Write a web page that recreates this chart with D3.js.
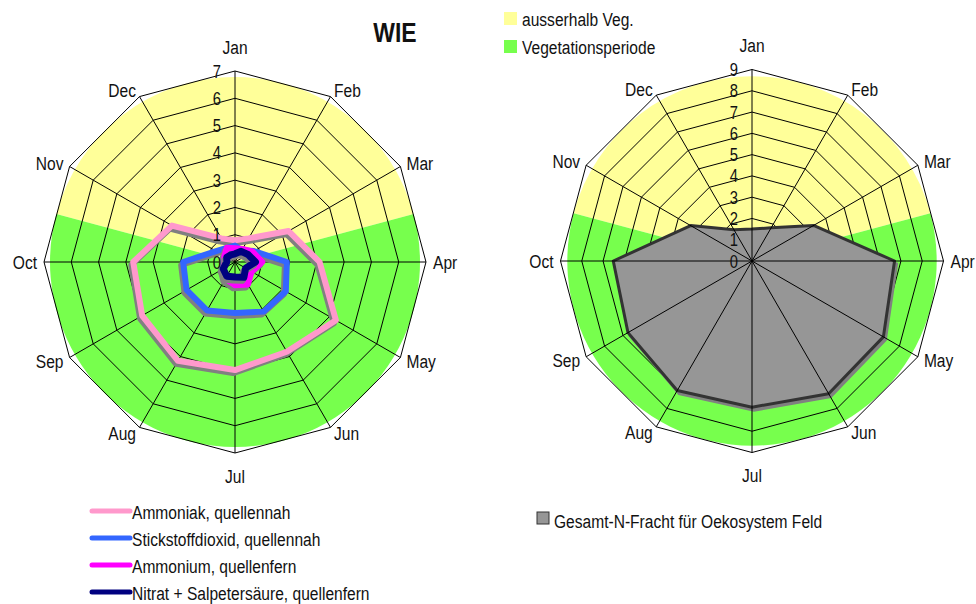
<!DOCTYPE html>
<html>
<head>
<meta charset="utf-8">
<script src="https://cdn.jsdelivr.net/npm/d3@7/dist/d3.min.js"></script>
<style>
  body { margin: 0; background: #fff; }
  svg text { font-family: "Liberation Sans", Arial, sans-serif; fill: #111; }
</style>
</head>
<body>
<svg id="chart" width="976" height="604"></svg>
<script>
// Monthly nitrogen deposition at site WIE
const months = ["Jan", "Feb", "Mar", "Apr", "May", "Jun", "Jul", "Aug", "Sep", "Oct", "Nov", "Dec"];

const ammoniak         = [0.8, 1.0, 2.27, 3.1, 4.27, 3.8, 3.96, 4.18, 3.93, 3.73, 2.67, 1.0];
const stickstoffdioxid = [0.6, 0.5, 0.8, 1.9, 2.15, 2.1, 1.87, 2.05, 2.05, 1.9, 0.8, 0.6];
const ammonium         = [0.5, 0.55, 0.75, 1.0, 0.7, 0.95, 0.85, 0.7, 0.5, 0.4, 0.45, 0.6];
const nitrat           = [0.3, 0.45, 0.55, 0.75, 0.45, 0.65, 0.55, 0.6, 0.5, 0.3, 0.35, 0.3];

const gesamtN = [1.5, 1.8, 3.34, 6.7, 7.13, 7.2, 6.87, 7.03, 6.73, 6.52, 3.33, 1.7];

const leftTicks  = [0, 1, 2, 3, 4, 5, 6, 7];
const rightTicks = [0, 1, 2, 3, 4, 5, 6, 7, 8, 9];

// vegetation period, in month positions (mid-March to mid-October)
const vegStart = 2.5;
const vegEnd   = 9.5;

const leftSeries = [
  { name: "Ammoniak, quellennah",               values: ammoniak,         color: "#ff99cc", width: 6 },
  { name: "Stickstoffdioxid, quellennah",       values: stickstoffdioxid, color: "#3366ff", width: 6 },
  { name: "Ammonium, quellenfern",              values: ammonium,         color: "#ff00ff", width: 6 },
  { name: "Nitrat + Salpetersäure, quellenfern", values: nitrat,           color: "#000080", width: 7 }
];

const svg = d3.select("#chart");
const angle = d3.scaleLinear().domain([0, 12]).range([0, 2 * Math.PI]);

// condensed lettering: regular sans squeezed horizontally around its anchor
const NARROW = 0.82;
function place(sel, fx, fy) {
  sel.attr("x", 0).attr("y", 0)
    .attr("transform", (d, i) => `translate(${fx(d, i)},${fy(d, i)}) scale(${NARROW},1)`);
  return sel;
}

function drawFrame(g, cx, cy, R, max, bandValue, ticks, spokesOnTop, drawSeries) {
  const r = d3.scaleLinear().domain([0, max]).range([0, R]);
  const root = g.append("g").attr("transform", `translate(${cx},${cy})`);

  // seasonal background
  const arc = d3.arc().innerRadius(0).outerRadius(r(bandValue));
  root.append("path")
    .attr("d", arc({ startAngle: angle(vegEnd) - 2 * Math.PI, endAngle: angle(vegStart) }))
    .attr("fill", "#ffff99");
  root.append("path")
    .attr("d", arc({ startAngle: angle(vegStart), endAngle: angle(vegEnd) }))
    .attr("fill", "#77ff4d");

  // ring gridlines
  const ring = d3.lineRadial().curve(d3.curveLinearClosed)
    .angle((d, i) => angle(i)).radius(d => r(d));
  ticks.filter(t => t > 0).forEach(t => {
    root.append("path").attr("d", ring(months.map(() => t)))
      .attr("fill", "none").attr("stroke", "#000").attr("stroke-width", 1);
  });

  const spokes = () => {
    root.append("g").selectAll("line").data(months).join("line")
      .attr("x1", 0).attr("y1", 0)
      .attr("x2", (d, i) => r(max) * Math.sin(angle(i)))
      .attr("y2", (d, i) => -r(max) * Math.cos(angle(i)))
      .attr("stroke", "#000").attr("stroke-width", 1);
  };

  if (!spokesOnTop) spokes();
  drawSeries(root, r);
  if (spokesOnTop) spokes();

  // value labels along the Jan axis
  place(root.append("g").selectAll("text").data(ticks).join("text"),
        () => -14, d => -r(d))
    .attr("text-anchor", "end").attr("dominant-baseline", "central")
    .style("font-size", "18px").text(d => d);

  // month labels
  place(root.append("g").selectAll("text").data(months).join("text"),
        (d, i) => (i === 0 || i === 6) ? 0 : (R + 7) * Math.sin(angle(i)),
        (d, i) => i === 0 ? -R - 24 : i === 6 ? R + 23 : -(R + 7) * Math.cos(angle(i)))
    .attr("text-anchor", (d, i) => (i === 0 || i === 6) ? "middle" : i < 6 ? "start" : "end")
    .attr("dominant-baseline", "central")
    .style("font-size", "19px").text(d => d);
}

// left chart: deposition lines
drawFrame(svg, 235, 262, 191, 7, 6.78, leftTicks, false, (root, r) => {
  const line = d3.lineRadial().curve(d3.curveLinearClosed)
    .angle((d, i) => angle(i)).radius(d => r(d));
  leftSeries.forEach(s => {
    root.append("path").attr("d", line(s.values))
      .attr("transform", "translate(-2,3)")
      .attr("fill", "none").attr("stroke", "#808080").attr("stroke-width", s.width)
      .attr("stroke-linejoin", "round");
    root.append("path").attr("d", line(s.values))
      .attr("fill", "none").attr("stroke", s.color).attr("stroke-width", s.width)
      .attr("stroke-linejoin", "round");
  });
});

// right chart: total N load as filled area
drawFrame(svg, 752, 261, 191.5, 9, 8.68, rightTicks, true, (root, r) => {
  const area = d3.areaRadial().curve(d3.curveLinearClosed)
    .angle((d, i) => angle(i)).innerRadius(0).outerRadius(d => r(d));
  root.append("path").attr("d", area(gesamtN))
    .attr("transform", "translate(2,3)")
    .attr("fill", "#808080").attr("stroke", "#808080").attr("stroke-width", 3);
  root.append("path").attr("d", area(gesamtN))
    .attr("fill", "#969696").attr("stroke", "#333333").attr("stroke-width", 3)
    .attr("stroke-linejoin", "round");
});

// title
place(svg.append("text"), () => 395, () => 42)
  .attr("text-anchor", "middle")
  .style("font-size", "28px").style("font-weight", "bold").text("WIE");

// season legend
const seasons = [
  { label: "ausserhalb Veg.", color: "#ffff99" },
  { label: "Vegetationsperiode", color: "#77ff4d" }
];
const sl = svg.append("g").selectAll("g").data(seasons).join("g")
  .attr("transform", (d, i) => `translate(504,${12 + i * 28})`);
sl.append("rect").attr("width", 13).attr("height", 13).attr("fill", d => d.color);
place(sl.append("text"), () => 18, () => 7)
  .attr("dominant-baseline", "central")
  .style("font-size", "19px").text(d => d.label);

// series legend
const ll = svg.append("g").selectAll("g").data(leftSeries).join("g")
  .attr("transform", (d, i) => `translate(92,${511 + i * 27})`);
ll.append("line").attr("x1", 0).attr("x2", 38).attr("y1", 0).attr("y2", 0)
  .attr("stroke", d => d.color).attr("stroke-width", 5).attr("stroke-linecap", "round");
place(ll.append("text"), () => 40, () => 1)
  .attr("dominant-baseline", "central")
  .style("font-size", "19px").text(d => d.name);

// area legend
const al = svg.append("g").attr("transform", "translate(537,512)");
al.append("rect").attr("width", 12).attr("height", 12)
  .attr("fill", "#969696").attr("stroke", "#333").attr("stroke-width", 1);
place(al.append("text"), () => 17, () => 9)
  .attr("dominant-baseline", "central")
  .style("font-size", "19px").text("Gesamt-N-Fracht für Oekosystem Feld");
</script>
</body>
</html>
